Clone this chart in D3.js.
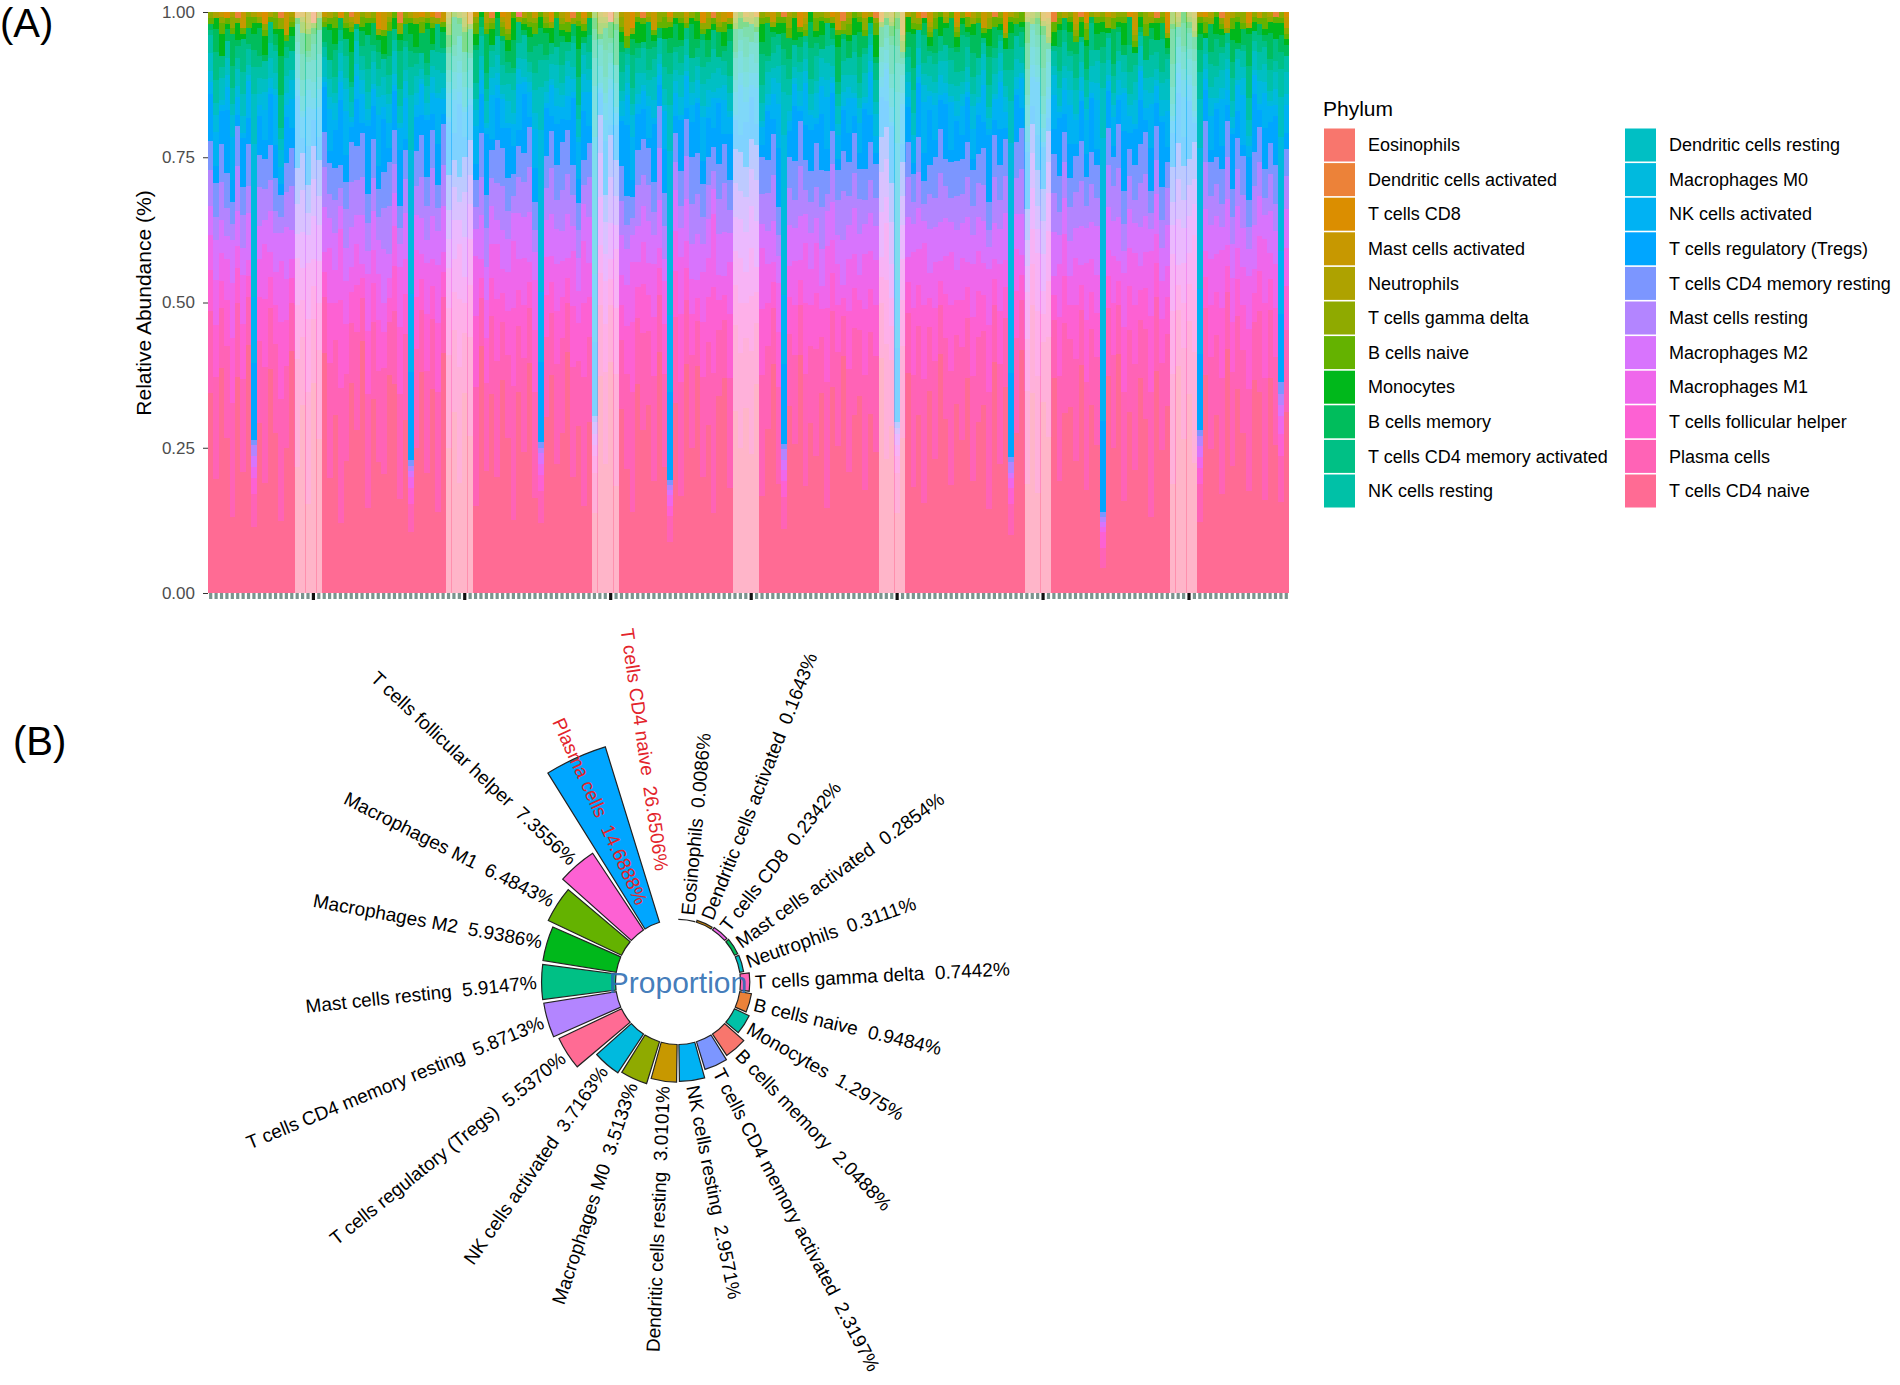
<!DOCTYPE html>
<html>
<head>
<meta charset="utf-8">
<script src="https://cdn.jsdelivr.net/npm/d3@7"></script>
<style>
  body { margin: 0; background: #fff; }
  svg text { font-family: "Liberation Sans", Arial, sans-serif; }
</style>
</head>
<body>
<svg id="chart" width="1900" height="1385"></svg>
<script>
// cell types ordered by mean proportion (legend order in A, clockwise order in B)
const cellTypes = [
  "Eosinophils", "Dendritic cells activated", "T cells CD8", "Mast cells activated",
  "Neutrophils", "T cells gamma delta", "B cells naive", "Monocytes", "B cells memory",
  "T cells CD4 memory activated", "NK cells resting", "Dendritic cells resting",
  "Macrophages M0", "NK cells activated", "T cells regulatory (Tregs)",
  "T cells CD4 memory resting", "Mast cells resting", "Macrophages M2", "Macrophages M1",
  "T cells follicular helper", "Plasma cells", "T cells CD4 naive"
];
const proportions = [
  0.0086, 0.1643, 0.2342, 0.2854, 0.3111, 0.7442, 0.9484, 1.2975, 2.0488, 2.3197, 2.9571,
  3.0101, 3.5133, 3.7163, 5.5370, 5.8713, 5.9147, 5.9386, 6.4843, 7.3556, 14.6888, 26.6506
];
const yTicks = [0, 0.25, 0.5, 0.75, 1.0];
const rLimits = [-5, 15];                 // radial limits of panel B (bars above are dropped)
const highlighted = ["Plasma cells", "T cells CD4 naive"];
const highlightLabelY = [1.5, 3.6];       // radial position of the red labels

// panel A: per-sample abundance (%)
const eosinophils = [
  0,0,0,0,0,0,0,0,0,0,0,0,0,0,0,0,0,0,0,0, 0,0,0,0,0,0,0,0,0,0,0,0,0,0,0,0,0,0,0,0,
  0,0,0,0,0,0,0,0,0,0,0,0,0,0,0,0,0,1,0,0, 0,0,0,0,0,0,0,0,0,0,0,0,0,0,0,0,0,0,0,0,
  0,0,0,0,0,0,0,0,0,0,0,0,0,0,0,0,0,0,0,0, 0,0,0,0,0,0,0,0,0,0,0,0,0,0,0,0,0,0,0,0,
  0,0,0,0,0,0,0,0,0,0,0,0,0,0,0,0,0,0,0,0, 0,0,0,0,0,0,0,0,0,0,0,0,0,0,0,0,0,0,0,0,
  0,0,0,0,0,0,0,0,0,0,0,0,0,0,0,0,0,0,0,0, 0,0,0,0,0,0,0,0,0,0,0,0,0,0,0,0,0,0,0,0
];
const dcActivated = [
  0,0,0,0,0,1,0,0,0,0,0,0,0,1,0,0,0,0,0,2, 0,0,0,0,0,0,1,0,0,0,0,0,0,0,0,2,0,0,0,0,
  0,0,1,0,0,0,0,0,0,0,0,0,1,0,0,0,0,0,0,0, 0,0,0,0,0,0,0,1,0,0,0,0,0,0,2,0,0,0,0,0,
  1,0,0,0,0,0,0,0,0,0,0,0,0,1,0,0,0,0,0,0, 0,0,0,0,0,0,1,0,0,0,0,0,0,0,0,0,0,2,0,0,
  0,0,0,1,0,0,0,0,0,0,0,0,1,0,0,0,0,0,0,0, 0,0,0,0,0,1,0,0,0,0,0,0,0,0,0,0,2,0,0,0,
  0,1,0,0,0,0,0,0,0,0,0,0,0,0,0,1,0,0,0,0, 0,0,0,0,0,0,0,1,0,0,0,0,0,0,0,0,0,1,0,0
];
const tCellsCD8 = [
  0,0,0,1,0,0,0,0,0,0,2,0,0,0,0,0,1,0,0,0, 0,0,0,0,1,0,0,0,0,0,0,3,0,0,0,0,0,0,0,1,
  0,1,0,0,0,0,0,0,2,0,0,0,0,0,1,0,0,0,0,0, 0,0,0,2,0,0,0,0,0,1,0,0,0,0,0,0,0,0,3,0,
  0,0,0,0,0,1,0,0,0,0,0,2,0,0,0,0,1,0,0,0, 0,1,0,0,0,0,0,0,0,3,0,0,0,0,0,1,0,0,0,0,
  0,0,0,0,2,0,0,0,0,0,0,1,0,0,0,0,0,0,2,0, 1,0,0,0,0,0,0,3,0,0,0,0,0,0,0,1,0,0,0,0,
  0,0,2,0,0,0,0,0,0,0,1,0,0,0,0,0,0,3,0,0, 0,0,0,0,1,0,0,0,0,0,0,0,2,0,0,0,0,0,0,1
];
const mastActivated = [
  0,0,1,0,0,0,3,0,0,1,0,0,0,0,4,0,0,1,0,0, 0,1,0,0,0,0,0,2,0,0,0,0,3,0,0,0,0,0,1,0,
  0,0,0,2,0,0,0,0,0,1,0,0,0,0,0,3,0,0,0,0, 1,0,0,0,0,0,2,0,0,0,0,0,0,1,0,0,0,4,0,0,
  0,0,3,0,0,0,0,0,1,0,0,0,0,0,0,2,0,0,0,1, 0,0,0,0,2,0,0,0,0,0,1,0,0,0,0,0,3,0,0,0,
  0,1,0,0,0,0,0,0,4,0,0,0,0,2,0,0,0,0,1,0, 0,0,0,3,0,0,0,1,0,0,0,0,0,0,2,0,0,0,0,0,
  2,0,0,0,0,0,1,0,0,0,0,3,0,0,0,0,0,1,0,0, 0,0,0,1,0,0,0,0,3,0,0,0,0,0,1,0,0,0,0,2
];
const neutrophils = [
  0,1,0,0,1,0,0,0,1,0,0,1,0,0,0,1,0,0,2,0, 0,0,1,0,0,0,1,0,0,1,0,0,0,1,0,0,0,1,0,0,
  1,0,0,0,1,0,0,1,0,0,0,2,0,0,1,0,0,0,1,0, 0,0,1,0,0,1,0,0,0,1,0,0,1,0,0,0,1,0,0,1,
  0,1,0,0,0,1,0,0,1,0,0,0,1,0,2,0,0,1,0,0, 1,0,0,1,0,0,0,1,0,0,1,0,0,0,1,0,0,0,1,0,
  0,0,1,0,0,0,1,0,0,1,0,0,0,1,0,0,1,0,0,0, 0,1,0,0,1,0,0,0,1,0,0,1,0,0,0,1,0,0,1,0,
  1,0,0,0,1,0,0,1,0,0,0,1,0,0,1,0,0,0,0,1, 0,0,1,0,0,1,0,0,0,1,0,0,1,0,0,0,1,0,0,0
];
const tCellsGammaDelta = [
  1,0,1,0,2,1,0,1,0,1,1,0,1,2,0,1,0,1,1,0, 1,1,0,1,0,2,1,0,1,0,1,1,0,1,0,2,1,0,1,1,
  0,1,1,0,1,0,1,2,0,1,0,1,1,0,1,1,0,1,0,2, 1,0,1,1,0,1,0,1,2,0,1,0,1,1,0,1,2,0,1,0,
  0,1,0,2,1,0,1,1,0,1,0,1,2,0,1,0,1,1,0,1, 1,0,1,0,1,1,0,2,1,0,1,0,1,1,0,1,0,2,1,0,
  1,2,0,1,0,1,1,0,1,0,2,1,0,1,1,0,1,0,1,1, 0,1,1,0,2,0,1,1,0,1,0,1,1,0,1,2,0,1,0,1,
  1,0,1,1,0,1,2,0,1,1,0,1,0,2,1,0,1,1,0,1, 0,1,2,0,1,1,0,1,1,0,1,2,0,1,0,1,1,0,1,1
];
const bCellsNaive = [
  1,0,2,1,1,0,1,2,1,0,1,1,2,0,1,1,0,2,1,1, 0,1,1,2,0,1,1,0,2,1,1,0,1,2,1,0,1,1,0,2,
  1,1,0,1,2,1,0,1,1,2,0,1,1,0,2,1,1,0,1,1, 2,1,1,0,1,1,2,0,1,1,0,1,2,1,0,1,1,2,0,1,
  1,0,1,1,2,1,0,1,1,0,2,1,0,1,1,2,0,1,1,0, 0,2,1,1,0,1,1,2,0,1,1,0,2,1,1,0,1,1,2,1,
  1,1,0,2,1,0,1,1,2,0,1,1,0,1,2,1,0,1,1,0, 2,0,1,1,0,2,1,0,1,1,2,0,1,1,0,1,2,1,0,1,
  1,1,2,0,1,1,0,2,1,1,0,1,1,2,0,1,1,0,2,1, 0,1,1,1,2,0,1,1,0,2,1,1,0,1,1,2,0,1,1,1
];
const monocytes = [
  0,2,4,1,0,3,1,0,2,1,3,0,1,5,0,2,1,0,3,1, 2,0,1,3,0,2,4,0,1,2,0,1,3,0,2,1,0,2,4,0,
  1,3,0,1,2,0,1,4,0,2,1,0,3,1,0,2,4,0,1,2, 0,2,1,3,0,1,2,0,5,1,0,2,1,0,3,1,2,0,1,4,
  3,0,1,0,2,2,1,3,0,1,4,0,2,1,0,3,1,0,2,1, 0,1,3,0,1,2,2,0,4,1,0,2,1,3,0,1,2,0,1,3,
  2,0,1,4,0,1,2,2,0,3,1,0,1,2,0,4,1,0,2,1, 1,2,0,1,3,0,1,2,2,0,1,4,0,1,2,0,3,1,0,2,
  0,3,1,0,2,2,1,0,1,4,0,1,2,0,1,3,0,2,1,0, 2,1,0,2,1,0,3,1,0,2,4,0,1,2,0,1,2,3,2,1
];
const bCellsMemory = [
  1,4,0,2,6,1,0,3,3,5,1,0,2,7,1,3,0,4,1,2, 0,3,5,1,2,0,6,1,3,0,4,2,1,5,0,2,3,3,1,4,
  6,1,0,3,1,5,2,0,4,1,2,7,0,3,1,2,5,0,1,3, 2,3,4,0,5,1,0,2,6,1,3,2,0,4,1,6,2,0,3,1,
  0,5,1,2,0,3,4,1,0,6,2,1,3,0,5,1,2,4,0,2, 3,0,2,6,1,0,3,4,1,2,0,5,1,3,0,2,6,1,3,0,
  5,2,0,1,4,0,2,3,1,3,6,0,2,1,4,0,3,5,1,2, 1,3,6,0,2,4,1,0,3,2,1,5,0,2,7,1,0,3,2,4,
  2,0,4,1,3,3,0,6,1,2,5,0,1,4,2,0,3,1,6,0, 4,1,2,3,0,5,1,2,0,4,1,3,6,0,2,1,5,0,3,2
];
const cd4MemoryActivated = [
  1,5,2,0,4,2,6,1,3,2,0,4,1,6,2,0,3,5,1,3, 4,1,0,5,2,3,1,0,2,6,1,3,0,4,2,7,1,3,2,0,
  2,0,5,1,3,2,0,4,1,6,2,3,1,0,5,2,1,4,0,2, 5,3,1,2,0,4,2,1,6,0,3,3,1,5,2,0,4,1,6,2,
  1,4,2,0,5,4,1,3,2,0,2,5,1,3,0,2,6,1,2,4, 0,2,5,1,3,2,3,4,0,3,1,6,2,0,4,1,2,5,0,3,
  5,1,2,3,0,2,6,3,1,2,4,0,5,1,2,3,0,2,4,6, 2,4,0,1,5,2,1,4,4,0,3,5,1,2,6,0,1,4,2,1,
  4,1,2,5,0,3,1,2,4,0,5,2,1,0,3,2,6,1,4,2, 1,3,2,4,0,2,5,1,2,3,0,1,6,2,3,1,2,4,3,0
];
const nkResting = [
  3,4,2,3,3,2,4,3,5,2,3,3,4,2,3,4,2,3,3,4, 4,2,3,3,2,4,3,2,3,4,2,3,3,4,2,3,4,5,2,3,
  2,3,3,4,2,3,4,3,2,3,4,2,3,3,4,2,3,3,4,2, 3,5,4,2,3,3,2,4,3,2,3,5,4,3,2,3,4,2,3,3,
  4,2,3,3,4,6,3,2,3,4,2,3,3,4,2,3,3,4,2,3, 2,4,3,2,3,4,5,3,4,2,3,3,4,2,3,4,2,3,3,4,
  3,3,2,4,3,2,3,5,2,3,4,3,2,4,3,2,3,4,3,2, 4,3,3,2,4,3,2,3,6,4,3,2,3,3,4,2,3,3,4,3,
  2,4,3,3,2,5,4,3,2,3,4,3,2,3,4,3,2,4,3,2, 3,2,4,5,3,4,2,3,3,4,2,3,4,2,3,3,4,2,5,3
];
const dcResting = [
  3,2,4,3,2,3,4,2,9,3,2,4,3,2,3,2,4,3,2,3, 2,4,3,2,3,2,3,4,2,3,4,2,3,2,4,3,2,10,3,2,
  3,2,4,3,2,3,2,4,3,2,3,4,2,3,2,3,4,2,3,2, 4,8,2,3,4,2,3,2,4,3,2,9,3,2,3,4,2,3,2,4,
  2,3,4,2,3,9,2,4,3,2,3,4,2,3,4,2,3,2,4,3, 3,2,3,4,2,3,8,3,2,4,2,3,2,4,3,2,3,4,2,3,
  2,4,3,2,3,2,4,9,3,2,4,3,2,3,2,3,4,2,3,2, 3,2,4,3,2,4,3,2,8,3,2,4,3,2,3,4,2,3,2,4,
  4,3,2,3,4,10,3,2,4,3,2,3,4,2,3,2,3,4,2,3, 2,3,4,9,3,2,4,3,2,3,4,2,3,4,2,3,2,3,7,4
];
const macrophagesM0 = [
  2,3,1,2,4,2,3,1,28,2,3,2,1,3,2,4,2,1,3,2, 3,1,2,3,2,4,1,2,3,2,1,3,2,4,2,1,3,26,2,1,
  2,3,1,2,4,2,3,1,2,3,2,1,3,2,1,4,2,3,1,2, 3,30,2,1,3,2,4,2,1,3,2,24,1,3,2,1,3,2,4,2,
  1,2,3,2,1,32,2,3,1,2,4,2,3,1,2,3,1,4,2,3, 2,3,1,2,3,4,30,2,1,3,2,1,4,2,3,1,2,3,2,1,
  3,1,2,4,2,1,3,24,2,3,1,2,3,1,2,4,2,1,3,2, 2,4,1,3,2,1,2,3,30,2,1,3,2,1,3,2,4,1,2,3,
  1,3,2,2,3,40,1,2,3,1,2,4,1,3,2,1,3,2,1,2, 3,2,1,26,2,3,1,2,4,2,1,3,2,1,4,2,1,3,20,2
];
const nkActivated = [
  2,6,1,4,8,3,1,7,12,2,5,1,9,3,2,6,1,4,7,2, 5,1,7,2,3,8,1,4,6,1,3,9,2,5,1,4,7,14,2,6,
  1,4,8,3,1,6,2,5,1,7,3,1,8,2,6,1,4,9,2,5, 7,13,1,6,3,2,5,1,8,3,6,12,1,4,7,2,1,5,8,2,
  3,6,1,2,7,15,4,1,6,3,1,8,2,5,1,7,3,1,9,4, 2,7,3,1,5,8,13,2,4,1,7,3,1,6,9,2,4,1,6,3,
  6,1,8,3,2,5,1,12,7,2,4,1,9,3,6,1,2,8,1,5, 1,5,2,7,1,4,8,3,14,1,6,2,5,9,1,3,7,1,4,8,
  4,2,6,1,9,16,2,5,1,7,3,1,6,2,8,3,1,7,2,4, 7,3,1,12,2,6,1,8,3,1,5,9,2,4,1,6,3,2,11,5
];
const tregs = [
  8,3,6,11,4,2,9,5,14,7,3,10,6,2,8,4,12,3,7,5, 4,9,2,7,11,5,3,8,2,12,6,4,9,3,7,10,2,16,6,4,
  10,3,7,2,9,5,12,4,6,3,8,11,2,7,4,9,5,3,10,2, 6,15,9,3,7,4,2,11,5,8,3,13,4,10,2,6,9,12,3,7,
  5,2,10,4,8,17,3,9,2,6,11,4,7,3,12,2,8,5,3,9, 7,4,2,9,3,11,15,5,10,2,6,8,3,12,4,7,2,9,5,3,
  3,10,5,2,8,4,12,13,3,7,2,9,5,11,3,6,10,2,8,4, 9,2,7,5,12,3,6,2,16,8,4,11,3,6,9,2,5,10,3,7,
  2,8,4,10,3,18,7,2,5,11,3,6,9,2,8,4,12,3,6,10, 5,11,3,14,6,2,9,4,3,10,5,2,8,12,3,7,4,9,12,3
];
const cd4MemoryResting = [
  5,6,7,6,4,7,5,8,1,6,5,7,6,4,5,8,6,7,5,6, 6,7,5,6,4,5,8,6,9,5,7,5,6,9,6,4,5,1,6,8,
  5,7,4,8,6,5,4,7,6,5,9,6,5,7,8,6,4,6,5,8, 5,1,6,7,6,8,9,5,6,4,6,1,7,5,8,6,7,5,4,7,
  6,7,5,8,6,1,5,6,7,8,9,6,5,4,7,8,5,6,7,6, 5,7,6,6,8,5,1,6,7,9,5,6,7,8,4,6,5,9,6,7,
  6,5,7,6,7,5,8,1,6,7,5,6,4,6,7,9,5,6,7,6, 7,6,5,7,5,8,6,7,1,6,8,6,5,6,7,5,8,6,5,6,
  6,8,5,6,6,1,7,5,9,6,5,6,8,7,4,6,6,5,6,7, 6,5,6,1,8,6,5,6,7,5,6,7,5,7,6,5,6,7,2,5
];
const mastResting = [
  6,4,7,5,3,8,6,5,2,7,5,6,4,3,6,9,5,8,4,7, 5,8,4,6,3,7,9,6,8,5,6,4,7,10,5,3,6,1,5,8,
  6,9,4,8,5,6,3,9,5,4,8,7,5,6,9,5,3,7,6,9, 4,1,6,9,5,7,8,5,6,3,7,2,8,6,9,5,7,4,3,8,
  5,7,4,10,6,1,5,4,8,7,9,5,6,3,7,10,4,6,5,7, 6,8,5,7,9,4,2,7,5,10,4,6,5,9,3,7,6,11,5,6,
  7,4,6,5,8,6,9,1,5,8,4,6,3,7,5,10,6,4,7,5, 8,5,6,7,3,9,5,7,2,6,9,5,6,4,7,5,8,4,6,7,
  6,9,4,7,5,1,8,6,10,5,6,4,9,7,3,6,5,7,4,8, 5,6,4,2,9,5,6,4,8,5,7,6,4,8,6,3,7,5,2,6
];
const macrophagesM2 = [
  5,7,6,4,8,6,5,9,2,6,4,8,7,5,9,6,4,7,5,8, 6,9,5,7,4,6,8,5,10,4,7,6,9,5,6,4,8,1,6,7,
  4,8,6,9,5,7,4,8,6,5,9,6,7,4,8,6,5,9,7,10, 5,2,7,8,6,5,9,4,7,6,8,2,9,5,7,4,8,6,5,7,
  6,8,5,9,4,1,7,5,8,6,10,5,7,4,8,9,5,6,7,8, 7,9,4,6,8,5,2,8,6,9,5,7,4,8,6,7,5,10,6,8,
  8,5,7,6,9,4,7,2,6,8,5,7,4,9,6,8,7,5,8,6, 9,5,6,8,4,7,6,9,1,6,8,5,7,4,8,6,9,5,6,7,
  5,8,6,7,9,1,8,6,9,4,7,5,8,6,4,7,6,8,5,9, 6,7,5,2,8,6,7,4,9,6,8,7,5,9,7,4,8,6,2,7
];
const macrophagesM1 = [
  6,8,5,7,10,4,9,3,2,7,9,5,6,11,7,4,8,6,10,5, 7,4,9,6,12,8,5,7,3,10,6,8,5,4,7,11,6,2,8,5,
  9,5,10,4,7,6,9,5,8,11,4,7,6,9,5,7,12,6,8,4, 9,2,7,5,8,6,4,9,7,10,6,2,5,8,4,10,6,7,11,5,
  7,6,9,4,8,2,7,10,5,6,4,9,7,12,5,4,9,6,8,6, 8,5,10,7,4,9,2,6,8,4,10,7,8,5,11,6,7,3,9,6,
  5,9,7,8,4,9,6,2,7,5,10,6,11,5,8,4,7,9,6,7, 5,9,7,6,10,4,8,5,2,7,4,9,6,10,5,8,4,9,7,6,
  8,4,10,6,7,1,5,8,4,10,7,9,5,6,12,5,7,6,10,4, 7,6,9,2,5,8,7,10,4,8,6,7,10,5,6,11,5,8,3,7
];
const tfh = [
  7,9,5,8,12,6,10,4,3,8,11,6,7,14,8,5,9,7,13,6, 8,5,10,7,15,9,6,8,4,11,7,9,6,5,8,12,7,3,9,6,
  10,6,12,5,8,7,11,6,9,13,4,8,7,10,6,8,14,7,9,5, 11,3,8,6,9,7,5,10,8,12,7,3,6,9,5,11,7,8,13,6,
  8,7,10,5,9,2,8,12,6,7,5,10,8,14,6,5,11,7,9,7, 9,6,11,8,5,10,3,7,9,5,12,8,9,6,13,7,8,4,10,7,
  6,11,8,9,5,10,7,3,8,6,12,7,13,6,9,5,8,11,7,8, 6,10,8,7,12,5,9,6,3,8,5,10,7,11,6,9,5,10,8,7,
  9,5,11,7,8,3,6,9,5,12,8,10,6,7,14,6,8,7,11,5, 8,7,10,3,6,9,8,12,5,9,7,8,11,6,7,13,6,9,4,8
];
const plasmaCells = [
  14,18,11,16,21,13,17,9,6,15,19,12,16,22,14,10,18,13,20,12, 15,11,19,14,23,16,12,17,9,20,14,16,18,11,13,19,15,5,17,12,
  18,13,21,11,16,15,19,12,17,22,10,16,14,19,12,15,24,13,16,11, 19,6,15,12,17,16,10,18,14,21,15,7,13,17,11,19,14,16,22,13,
  16,14,18,11,17,5,15,20,12,16,10,18,15,23,13,12,19,15,17,14, 17,12,20,15,11,18,6,14,16,10,19,15,17,12,22,14,16,9,18,15,
  13,19,15,17,11,18,14,7,16,12,20,15,22,13,17,10,15,19,14,16, 12,18,15,14,21,11,17,13,6,16,10,18,15,20,13,16,12,18,15,14,
  17,11,19,14,16,4,13,16,10,20,15,18,12,15,23,13,16,14,19,11, 16,14,18,7,13,16,15,20,11,17,14,15,19,12,14,21,13,16,8,15
];
const cd4Naive = [
  34,20,41,27,14,38,22,47,12,31,18,44,29,13,25,50,21,36,16,39, 26,48,19,33,12,24,42,28,52,15,35,23,20,45,37,17,30,11,25,43,
  21,38,14,47,25,33,18,40,27,16,51,22,36,19,44,28,13,39,24,46, 17,13,33,42,22,27,49,19,36,14,30,14,40,24,45,18,37,21,15,41,
  27,36,19,46,23,10,33,17,43,25,50,21,30,13,39,44,18,32,26,37, 23,41,16,30,45,20,12,36,27,48,18,33,22,43,15,38,25,53,21,31,
  39,17,33,25,47,21,35,14,27,44,19,30,16,41,23,49,32,18,38,26, 43,19,30,36,15,45,22,39,11,27,48,21,34,17,41,25,44,19,30,38,
  22,46,18,35,27,5,41,25,49,17,33,21,44,29,14,39,26,36,19,45, 27,38,21,13,42,25,33,17,47,23,39,29,19,44,35,16,41,27,16,33
];

// sample ranges that the original raster renders washed-out (moire bands)
const washBands = [[16, 20], [44, 48], [71, 75], [97, 101], [124, 128], [151, 155], [178, 182]];

const abundance = {
  "Eosinophils": eosinophils, "Dendritic cells activated": dcActivated, "T cells CD8": tCellsCD8,
  "Mast cells activated": mastActivated, "Neutrophils": neutrophils,
  "T cells gamma delta": tCellsGammaDelta, "B cells naive": bCellsNaive, "Monocytes": monocytes,
  "B cells memory": bCellsMemory, "T cells CD4 memory activated": cd4MemoryActivated,
  "NK cells resting": nkResting, "Dendritic cells resting": dcResting,
  "Macrophages M0": macrophagesM0, "NK cells activated": nkActivated,
  "T cells regulatory (Tregs)": tregs, "T cells CD4 memory resting": cd4MemoryResting,
  "Mast cells resting": mastResting, "Macrophages M2": macrophagesM2,
  "Macrophages M1": macrophagesM1, "T cells follicular helper": tfh,
  "Plasma cells": plasmaCells, "T cells CD4 naive": cd4Naive
};

// ggplot-style hue palette (polar LUV)
function hcl(h, c, l) {
  const Xn = 95.047, Yn = 100, Zn = 108.883;
  const un = 4 * Xn / (Xn + 15 * Yn + 3 * Zn), vn = 9 * Yn / (Xn + 15 * Yn + 3 * Zn);
  const hr = h * Math.PI / 180;
  const Y = Yn * (l > 7.999592 ? Math.pow((l + 16) / 116, 3) : l / 903.3);
  const u = c * Math.cos(hr) / (13 * l) + un, v = c * Math.sin(hr) / (13 * l) + vn;
  const X = 9 * Y * u / (4 * v);
  const Z = -X / 3 - 5 * Y + 3 * Y / v;
  const g = t => {
    t = t > 0.00304 ? 1.055 * Math.pow(t, 1 / 2.4) - 0.055 : 12.92 * t;
    return Math.round(255 * Math.max(0, Math.min(1, t)));
  };
  return d3.rgb(
    g((3.240479 * X - 1.53715 * Y - 0.498535 * Z) / 100),
    g((-0.969256 * X + 1.875992 * Y + 0.041556 * Z) / 100),
    g((0.055648 * X - 0.204043 * Y + 1.057311 * Z) / 100)).formatHex();
}
const nType = cellTypes.length;
const palette = d3.range(nType).map(i => hcl(15 + i * 360 / nType, 100, 65));
const colorA = d3.scaleOrdinal().domain(cellTypes).range(palette);
const alphabetical = cellTypes.slice().sort((a, b) => a.localeCompare(b));
const colorB = d3.scaleOrdinal().domain(alphabetical).range(palette);

const svg = d3.select("#chart");
svg.append("rect").attr("width", 1900).attr("height", 1385).attr("fill", "#fff");

// ---------- panel A ----------
const N = cd4Naive.length;
const samples = d3.range(N).map(i => {
  const row = { id: i };
  cellTypes.forEach(k => row[k] = abundance[k][i]);
  return row;
});
const series = d3.stack().keys(cellTypes.slice().reverse()).offset(d3.stackOffsetExpand)(samples);

const x = d3.scaleBand().domain(d3.range(N)).range([208, 1289]).padding(0);
const y = d3.scaleLinear().domain([0, 1]).range([593, 12]);
const washed = i => washBands.some(b => i >= b[0] && i <= b[1]);

svg.append("g").attr("shape-rendering", "crispEdges")
  .selectAll("g")
  .data(series)
  .join("g")
  .attr("fill", s => colorA(s.key))
  .selectAll("rect")
  .data(s => s)
  .join("rect")
  .attr("x", d => x(d.data.id))
  .attr("width", x.bandwidth() + 0.4)
  .attr("y", d => y(d[1]))
  .attr("height", d => Math.max(0, y(d[0]) - y(d[1])))
  .attr("fill-opacity", d => washed(d.data.id) ? 0.5 : 1);

const darkTicks = washBands.map(b => b[1] - 1);
const gx = svg.append("g")
  .attr("transform", "translate(0,593)")
  .call(d3.axisBottom(x).tickSize(6).tickFormat(""));
gx.select(".domain").remove();
gx.selectAll(".tick line")
  .attr("stroke", d => darkTicks.includes(d) ? "#111" : "#7a948e")
  .attr("stroke-width", d => darkTicks.includes(d) ? 3.2 : 3.2)
  .attr("y2", d => darkTicks.includes(d) ? 7 : 6);

const gy = svg.append("g")
  .attr("transform", "translate(208,0)")
  .call(d3.axisLeft(y).tickValues(yTicks).tickFormat(d3.format(".2f")).tickSize(5).tickPadding(8));
gy.select(".domain").remove();
gy.selectAll(".tick line").attr("stroke", "#333");
gy.selectAll(".tick text").attr("font-size", 17).attr("fill", "#4d4d4d")
  .attr("font-family", "Liberation Sans, Arial, sans-serif");

svg.append("text")
  .attr("transform", "translate(151,303) rotate(-90)")
  .attr("text-anchor", "middle")
  .attr("font-size", 21)
  .text("Relative Abundance (%)");

// legend
const legend = svg.append("g");
legend.append("text").attr("x", 1323).attr("y", 116).attr("font-size", 21).text("Phylum");
const rows = legend.selectAll("g.key")
  .data(cellTypes)
  .join("g")
  .attr("class", "key")
  .attr("transform", (d, i) => `translate(${i < 11 ? 1324 : 1625},${128.5 + (i % 11) * 34.6})`);
rows.append("rect").attr("width", 31).attr("height", 33).attr("fill", d => colorA(d));
rows.append("text").attr("x", 44).attr("y", 16.5).attr("dy", "0.35em")
  .attr("font-size", 18).text(d => d);

svg.append("text").attr("x", 0).attr("y", 37).attr("font-size", 40).text("(A)");
svg.append("text").attr("x", 13).attr("y", 755).attr("font-size", 40).text("(B)");

// ---------- panel B ----------
const cx = 678, cy = 982;
const step = 2 * Math.PI / nType;
const r = d3.scaleLinear().domain(rLimits).range([0, 250]);
const bars = cellTypes.map((name, i) => ({ name, value: proportions[i], a: (i + 0.5) * step }));
const arc = d3.arc();
const gB = svg.append("g").attr("transform", `translate(${cx},${cy})`);

gB.selectAll("path")
  .data(bars.filter(d => d.value <= rLimits[1]))
  .join("path")
  .attr("d", d => arc({
    innerRadius: r(0), outerRadius: r(d.value),
    startAngle: d.a - step * 0.45, endAngle: d.a + step * 0.45
  }))
  .attr("fill", d => colorB(d.name))
  .attr("stroke", "#222")
  .attr("stroke-width", 1.2);

gB.selectAll("text.lab")
  .data(bars)
  .join("text")
  .attr("class", "lab")
  .style("white-space", "pre")
  .attr("font-size", 19)
  .attr("fill", d => highlighted.includes(d.name) ? "#e3242b" : "#000")
  .attr("dy", "0.35em")
  .attr("text-anchor", d => d.a < Math.PI ? "start" : "end")
  .attr("transform", d => {
    const h = highlighted.indexOf(d.name);
    const rr = r(h >= 0 ? highlightLabelY[h] : d.value) + 5;
    const deg = d.a * 180 / Math.PI - 90;
    const tilt = h >= 0 ? 0 : (d.a < Math.PI ? -3 : -6);
    return `rotate(${deg}) translate(${rr},0)` + (d.a < Math.PI ? "" : " rotate(180)") + ` rotate(${tilt})`;
  })
  .text(d => `${d.name}  ${d.value.toFixed(4)}%`);

gB.append("text")
  .attr("text-anchor", "middle")
  .attr("dy", "0.35em")
  .attr("font-size", 30)
  .attr("fill", "#2c6cb2")
  .attr("fill-opacity", 0.9)
  .text("Proportion");
</script>
</body>
</html>
